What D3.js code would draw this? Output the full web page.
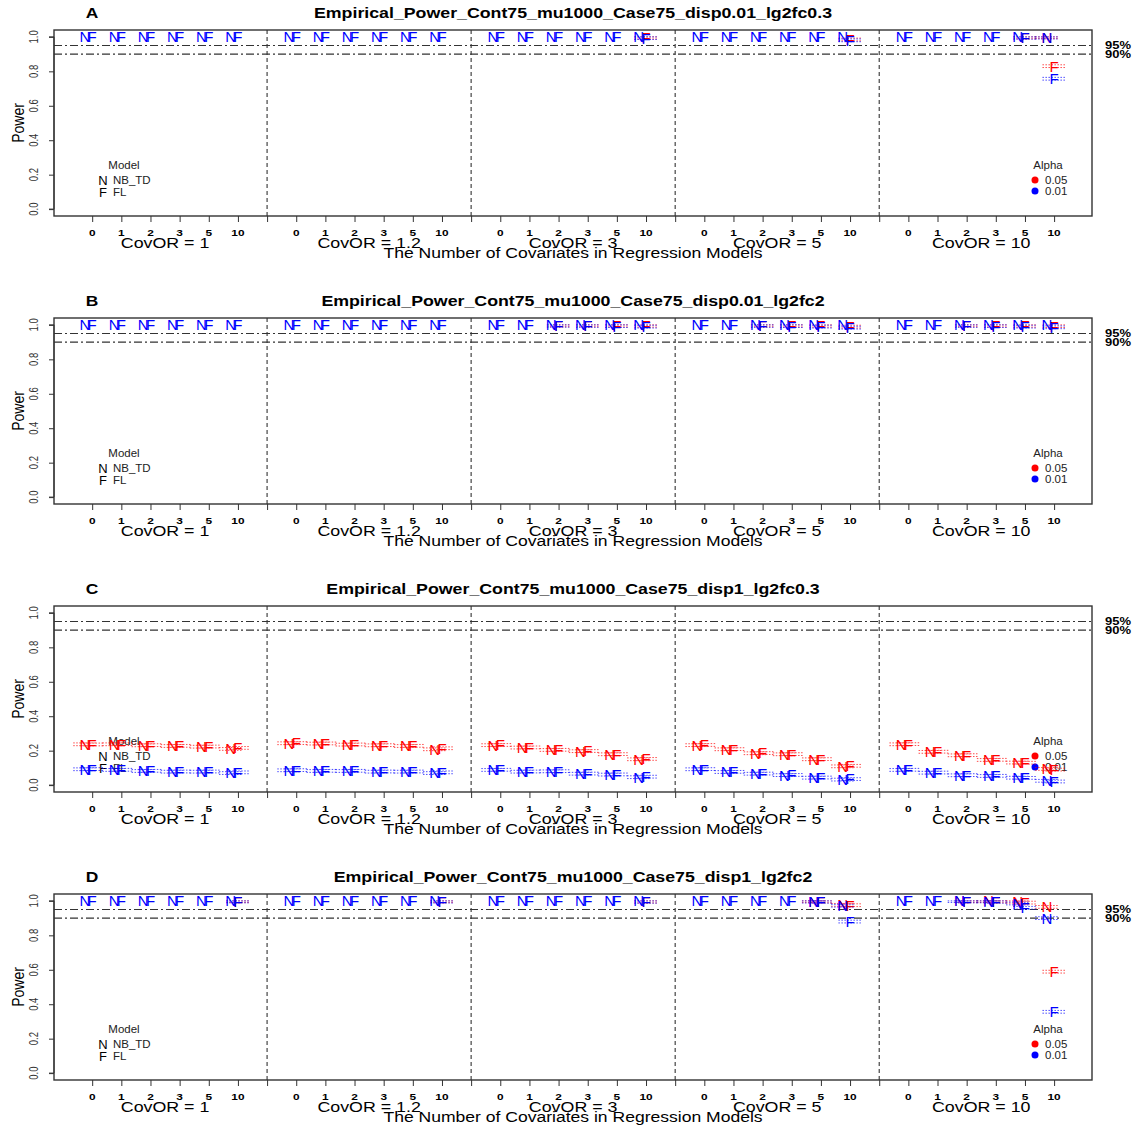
<!DOCTYPE html>
<html><head><meta charset="utf-8">
<script src="https://cdn.jsdelivr.net/npm/d3@7"></script>
<style>body{margin:0;background:#fff} text{font-family:"Liberation Sans",Arial,Helvetica,sans-serif}</style>
</head><body><svg id="c" width="1141" height="1128"></svg>
<script>
// ---------------- data ----------------
const covariates = ["0","1","2","3","5","10"];
const covOR = ["1","1.2","3","5","10"];
const panelLetters = ["A","B","C","D"];
const panelTitles = [
  "Empirical_Power_Cont75_mu1000_Case75_disp0.01_lg2fc0.3",
  "Empirical_Power_Cont75_mu1000_Case75_disp0.01_lg2fc2",
  "Empirical_Power_Cont75_mu1000_Case75_disp1_lg2fc0.3",
  "Empirical_Power_Cont75_mu1000_Case75_disp1_lg2fc2"
];
const modelCodes = ["N","F"];
const modelNames = ["NB_TD","FL"];
const alphaLevels = ["0.05","0.01"];
const alphaColors = ["#ff0000","#0000ff"];
const yTicks = [0,0.2,0.4,0.6,0.8,1.0];
const refLevels = [0.95,0.90];
const refLabels = ["95%","90%"];

// values: 5 CovOR groups x 6 covariate counts
const A_N_05 = [1,1,1,1,1,1, 1,1,1,1,1,1, 1,1,1,1,1,1, 1,1,1,1,1,1, 1,1,1,1,1,0.998];
const A_N_01 = [1,1,1,1,1,1, 1,1,1,1,1,1, 1,1,1,1,1,1, 1,1,1,1,1,1, 1,1,1,1,1,0.996];
const A_F_05 = [1,1,1,1,1,1, 1,1,1,1,1,1, 1,1,1,1,1,0.996, 1,1,1,1,1,0.985, 1,1,1,1,0.997,0.83];
const A_F_01 = [1,1,1,1,1,1, 1,1,1,1,1,1, 1,1,1,1,1,0.993, 1,1,1,1,1,0.98, 1,1,1,1,0.995,0.757];

const B_N_05 = [1,1,1,1,1,1, 1,1,1,1,1,1, 1,1,1,1,1,1, 1,1,1,1,1,1, 1,1,1,1,1,1];
const B_N_01 = [1,1,1,1,1,1, 1,1,1,1,1,1, 1,1,1,1,1,1, 1,1,1,1,1,1, 1,1,1,1,1,1];
const B_F_05 = [1,1,1,1,1,1, 1,1,1,1,1,1, 1,1,0.997,0.997,0.996,0.995, 1,1,0.997,0.996,0.995,0.99, 1,1,0.997,0.996,0.995,0.993];
const B_F_01 = [1,1,1,1,1,1, 1,1,1,1,1,1, 1,1,0.995,0.994,0.993,0.99, 1,1,0.994,0.993,0.99,0.984, 1,1,0.994,0.993,0.99,0.986];

const C_N_05 = [0.237,0.237,0.231,0.227,0.223,0.210, 0.243,0.241,0.235,0.231,0.227,0.208, 0.232,0.218,0.204,0.197,0.179,0.150, 0.232,0.208,0.185,0.179,0.150,0.109, 0.237,0.193,0.173,0.146,0.131,0.094];
const C_F_05 = [0.236,0.238,0.232,0.228,0.224,0.216, 0.244,0.242,0.236,0.232,0.228,0.214, 0.233,0.219,0.205,0.198,0.180,0.152, 0.233,0.209,0.186,0.180,0.151,0.112, 0.238,0.194,0.174,0.147,0.130,0.090];
const C_N_01 = [0.092,0.088,0.082,0.078,0.078,0.070, 0.086,0.082,0.082,0.078,0.078,0.070, 0.088,0.078,0.080,0.066,0.061,0.046, 0.092,0.076,0.066,0.058,0.043,0.032, 0.088,0.072,0.057,0.053,0.043,0.025];
const C_F_01 = [0.093,0.089,0.083,0.079,0.079,0.074, 0.087,0.083,0.083,0.079,0.079,0.074, 0.089,0.079,0.081,0.067,0.062,0.049, 0.093,0.077,0.067,0.059,0.044,0.035, 0.089,0.073,0.058,0.054,0.042,0.021];

const D_N_05 = [1,1,1,1,1,1, 1,1,1,1,1,1, 1,1,1,1,1,1, 1,1,1,1,0.998,0.977, 1,1,1,0.999,0.995,0.965];
const D_N_01 = [1,1,1,1,1,1, 1,1,1,1,1,1, 1,1,1,1,1,1, 1,1,1,1,0.996,0.972, 1,1,0.999,0.997,0.985,0.90];
const D_F_05 = [1,1,1,1,1,0.998, 1,1,1,1,1,0.998, 1,1,1,1,1,0.996, 1,1,1,1,0.997,0.975, 1,1,0.998,0.997,0.99,0.589];
const D_F_01 = [1,1,1,1,1,0.997, 1,1,1,1,1,0.996, 1,1,1,1,1,0.995, 1,1,1,1,0.995,0.88, 1,1,0.997,0.995,0.96,0.356];

// series per panel: [model][alpha]
const panelSeries = [
  [[A_N_05, A_N_01],[A_F_05, A_F_01]],
  [[B_N_05, B_N_01],[B_F_05, B_F_01]],
  [[C_N_05, C_N_01],[C_F_05, C_F_01]],
  [[D_N_05, D_N_01],[D_F_05, D_F_01]]
];

// ---------------- layout / style ----------------
const PANEL_STEP = 288;
const BOX_TOP = 30, BOX_BOTTOM = 216;
const modelOffset = [-0.25, 0];   // N drawn slightly left of F
const ciHalf = 0.008, segHalf = 0.4;
const svg = d3.select("#c");
const x = d3.scaleLinear().domain([-0.31, 35.3]).range([54, 1092]);
const groupSize = covariates.length + 1;
const pos = (g, k) => g * groupSize + k + 1;

function stext(parent, xx, yy, s, o) {
  o = o || {};
  const sx = o.sx || 1;
  const tr = o.rotate
    ? `translate(${xx},${yy}) rotate(-90) scale(1,${sx})`
    : `translate(${xx},${yy}) scale(${sx},1)`;
  return parent.append("text")
    .attr("transform", tr)
    .attr("text-anchor", o.anchor || "middle")
    .attr("font-size", o.size || 10)
    .attr("font-weight", o.weight || "normal")
    .attr("fill", o.fill || "#000")
    .attr("dy", o.dy || 0)
    .text(s);
}

panelLetters.forEach((letter, pi) => {
  const off = pi * PANEL_STEP;
  const g = svg.append("g");
  const y = d3.scaleLinear().domain([-0.04, 1.04]).range([BOX_BOTTOM + off, BOX_TOP + off]);

  // titles
  stext(g, 92, 18 + off, letter, {size: 14.5, weight: "bold", sx: 1.2});
  stext(g, 573, 18 + off, panelTitles[pi], {size: 14.5, weight: "bold", sx: 1.225});

  // y axis
  const yAxis = d3.axisLeft(y).tickValues(yTicks).tickSize(5).tickFormat(() => "");
  const ya = g.append("g").attr("transform", `translate(${x(-0.31)},0)`).call(yAxis);
  ya.select(".domain").attr("d", `M-5,${y(0)}H0V${y(1)}H-5`).attr("stroke", "#333");
  ya.selectAll("line").attr("stroke", "#333");
  yTicks.forEach(t => stext(g, 38, y(t), d3.format(".1f")(t), {size: 9.5, rotate: true, sx: 1.25, fill: "#333"}));
  stext(g, 24, y(0.5), "Power", {size: 14, rotate: true, sx: 1.15});

  // x axis ticks
  const tickPos = d3.range(1, 5 * groupSize);
  const xAxis = d3.axisBottom(x).tickValues(tickPos).tickSize(6).tickFormat(() => "");
  const xa = g.append("g").attr("transform", `translate(0,${BOX_BOTTOM + off})`).call(xAxis);
  xa.select(".domain").remove();
  xa.selectAll("line").attr("stroke", "#333");
  covOR.forEach((c, gi) => {
    covariates.forEach((cv, k) => stext(g, x(pos(gi, k)), 236 + off, cv, {size: 9.5, weight: "bold", sx: 1.25}));
    stext(g, x(pos(gi, 2.5)), 248 + off, "CovOR = " + c, {size: 15.5, sx: 1.15});
  });
  stext(g, 573, 258 + off, "The Number of Covariates in Regression Models", {size: 15, sx: 1.17});

  // group separators
  d3.range(1, covOR.length).forEach(b => {
    g.append("line").attr("x1", x(b * groupSize)).attr("x2", x(b * groupSize))
      .attr("y1", BOX_TOP + off).attr("y2", BOX_BOTTOM + off)
      .attr("stroke", "#333").attr("stroke-width", 1.1).attr("stroke-dasharray", "4,3");
  });

  // reference lines
  refLevels.forEach((r, ri) => {
    g.append("line").attr("x1", x(-0.31)).attr("x2", x(35.3)).attr("y1", y(r)).attr("y2", y(r))
      .attr("stroke", "#333").attr("stroke-width", 1.1).attr("stroke-dasharray", "8,3,2,3");
    stext(g, 1105, y(r) + 3.5, refLabels[ri], {size: 10, weight: "bold", anchor: "start", sx: 1.3});
  });

  // legends
  stext(g, 124, 169 + off, "Model", {size: 10, sx: 1.15, fill: "#222"});
  modelCodes.forEach((m, mi) => {
    const cy = (mi === 0 ? 180 : 192) + off;
    stext(g, 103, cy, m, {size: 13, dy: "0.36em"});
    stext(g, 113, cy + 3.5, modelNames[mi], {size: 10, anchor: "start", sx: 1.15, fill: "#222"});
  });
  stext(g, 1048, 169 + off, "Alpha", {size: 10, sx: 1.15, fill: "#222"});
  alphaLevels.forEach((a, ai) => {
    const cy = (ai === 0 ? 180 : 191) + off;
    g.append("circle").attr("cx", 1035).attr("cy", cy).attr("r", 3.5).attr("fill", alphaColors[ai]);
    stext(g, 1045, cy + 3.5, a, {size: 10, anchor: "start", sx: 1.15, fill: "#222"});
  });

  // data: CI segments then letters; 0.05 first then 0.01 on top
  alphaLevels.forEach((a, ai) => {
    modelCodes.forEach((m, mi) => {
      const vals = panelSeries[pi][mi][ai];
      vals.forEach((v, idx) => {
        const gi = Math.floor(idx / covariates.length), k = idx % covariates.length;
        const px = pos(gi, k) + modelOffset[mi];
        if (v < 0.9995) {
          [v - ciHalf, Math.min(1, v + ciHalf)].forEach(cv => {
            g.append("line").attr("x1", x(px - segHalf)).attr("x2", x(px + segHalf))
              .attr("y1", y(cv)).attr("y2", y(cv))
              .attr("stroke", alphaColors[ai]).attr("stroke-width", 1)
              .attr("stroke-dasharray", "1.5,1.5").attr("opacity", 0.7);
          });
        }
      });
    });
    modelCodes.forEach((m, mi) => {
      const vals = panelSeries[pi][mi][ai];
      const other = panelSeries[pi][mi][1 - ai];
      vals.forEach((v, idx) => {
        // a 0.05 letter exactly covered by the 0.01 letter is hidden in the reference
        if (ai === 0 && Math.abs(other[idx] - v) < 0.0005) return;
        const gi = Math.floor(idx / covariates.length), k = idx % covariates.length;
        const px = pos(gi, k) + modelOffset[mi];
        stext(g, x(px), y(v), m, {size: 15, dy: "0.36em", fill: alphaColors[ai]});
      });
    });
  });

  // box
  g.append("rect").attr("x", x(-0.31)).attr("y", BOX_TOP + off)
    .attr("width", x(35.3) - x(-0.31)).attr("height", BOX_BOTTOM - BOX_TOP)
    .attr("fill", "none").attr("stroke", "#333").attr("stroke-width", 1.4);
});
</script></body></html>
